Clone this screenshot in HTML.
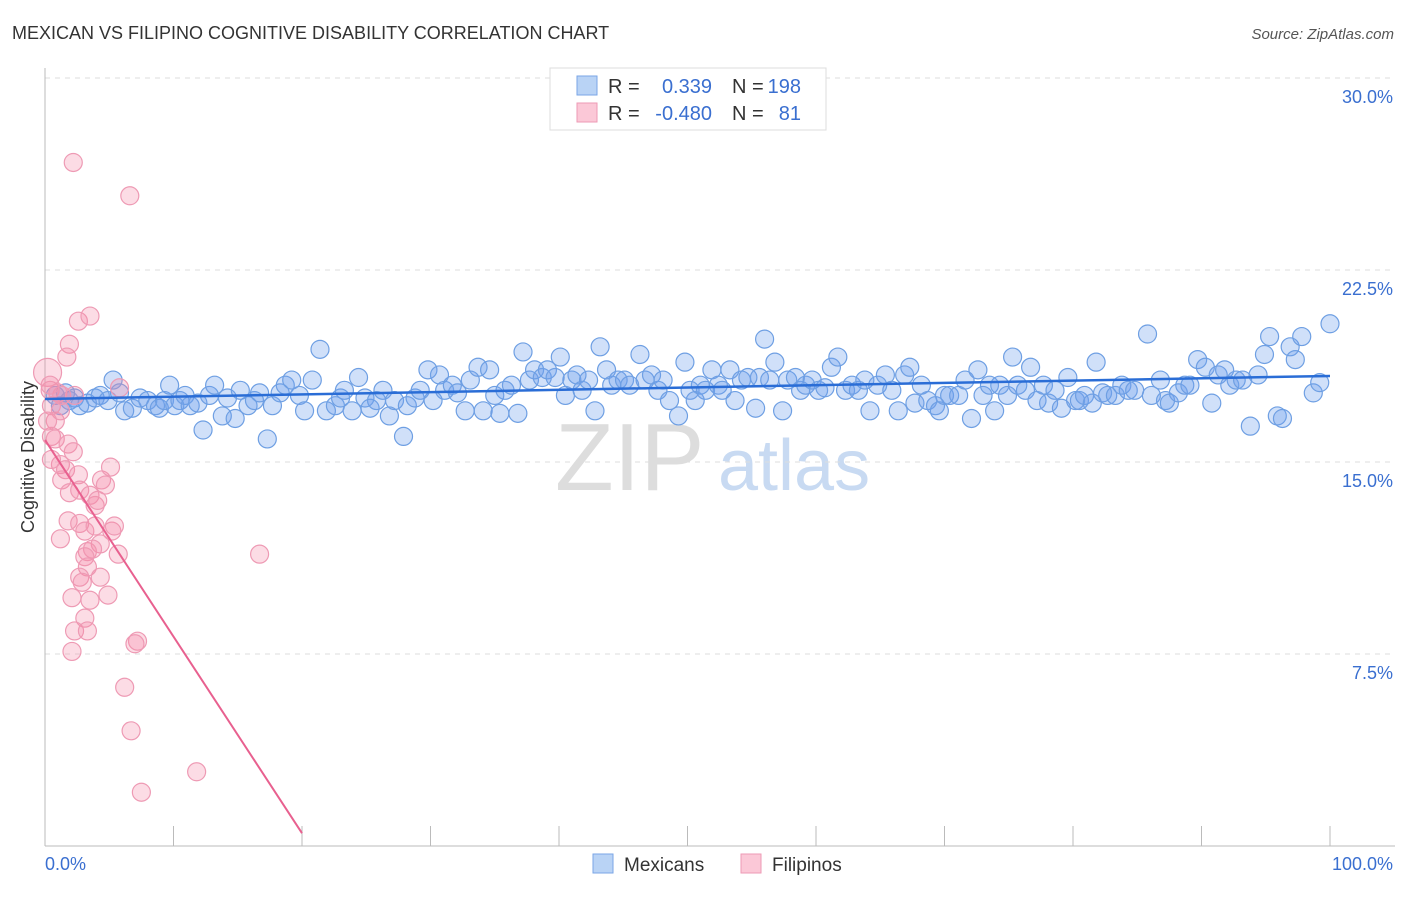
<!DOCTYPE html>
<html><head><meta charset="utf-8"><style>
body{margin:0;background:#fff;font-family:"Liberation Sans",sans-serif;}
svg text{font-family:"Liberation Sans",sans-serif;}
</style></head><body>
<svg id="chart" width="1406" height="892" xmlns="http://www.w3.org/2000/svg">
<text x="12" y="39" font-size="18" fill="#333">MEXICAN VS FILIPINO COGNITIVE DISABILITY CORRELATION CHART</text>
<text x="1394" y="39" font-size="15" fill="#555" font-style="italic" text-anchor="end">Source: ZipAtlas.com</text>
<g>
<text x="555" y="490" font-size="96" fill="#ddd" font-family="Liberation Serif,serif">ZIP</text>
<text x="718" y="490" font-size="72" fill="#c8daf2">atlas</text>
</g>
<g id="grid"></g>
<g id="axes"></g>
<g id="points"></g>
<g id="trends"></g>
<g>
<rect x="550" y="68" width="276" height="62" fill="#fff" stroke="#ddd"/>
<rect x="577" y="76" width="20" height="19" fill="#b9d3f5" stroke="#7aa6e6"/>
<rect x="577" y="103" width="20" height="19" fill="#fbc8d7" stroke="#ee9ab4"/>
<text x="608" y="93" font-size="20" fill="#333">R =</text>
<text x="712" y="93" font-size="20" fill="#3a6fd0" text-anchor="end">0.339</text>
<text x="732" y="93" font-size="20" fill="#333">N =</text>
<text x="801" y="93" font-size="20" fill="#3a6fd0" text-anchor="end">198</text>
<text x="608" y="120" font-size="20" fill="#333">R =</text>
<text x="712" y="120" font-size="20" fill="#3a6fd0" text-anchor="end">-0.480</text>
<text x="732" y="120" font-size="20" fill="#333">N =</text>
<text x="801" y="120" font-size="20" fill="#3a6fd0" text-anchor="end">81</text>
</g>
<g>
<rect x="593" y="854" width="20" height="19" fill="#b9d3f5" stroke="#7aa6e6"/>
<text x="624" y="871" font-size="19" fill="#333">Mexicans</text>
<rect x="741" y="854" width="20" height="19" fill="#fbc8d7" stroke="#ee9ab4"/>
<text x="772" y="871" font-size="19" fill="#333">Filipinos</text>
</g>
<text transform="translate(34,457) rotate(-90)" font-size="18" fill="#333" text-anchor="middle">Cognitive Disability</text>
</svg>
<script>
const yTicks=[7.5,15,22.5,30];
const yTickLabels=["7.5%","15.0%","22.5%","30.0%"];
const xTicks=[0,10,20,30,40,50,60,70,80,90,100];
const mexX=[0.8,1.2,1.6,1.9,2.3,2.7,3.3,3.9,4.3,4.9,5.3,5.8,6.2,6.8,7.4,8.0,8.6,8.9,9.3,9.7,10.1,10.5,10.9,11.3,11.9,12.3,12.8,13.2,13.8,14.2,14.8,15.2,15.8,16.3,16.7,17.3,17.7,18.3,18.7,19.2,19.8,20.2,20.8,21.4,21.9,22.6,23.0,23.3,23.9,24.4,24.9,25.3,25.8,26.3,26.8,27.2,27.9,28.2,28.8,29.2,29.8,30.2,30.7,31.1,31.7,32.1,32.7,33.1,33.7,34.1,34.6,35.0,35.4,35.8,36.3,36.8,37.2,37.7,38.1,38.7,39.1,39.7,40.1,40.5,41.0,41.4,41.8,42.3,42.8,43.2,43.7,44.1,44.6,45.1,45.5,46.3,46.7,47.2,47.7,48.1,48.6,49.3,49.8,50.2,50.6,51.0,51.4,51.9,52.4,52.7,53.3,53.7,54.2,54.7,55.3,55.6,56.0,56.4,56.8,57.4,57.8,58.4,58.8,59.2,59.7,60.2,60.7,61.2,61.7,62.3,62.8,63.3,63.8,64.2,64.8,65.4,65.9,66.4,66.9,67.3,67.7,68.2,68.7,69.3,69.6,70.0,70.4,71.1,71.6,72.1,72.6,73.0,73.5,73.9,74.3,74.9,75.3,75.7,76.3,76.7,77.2,77.7,78.1,78.6,79.1,79.6,80.2,80.5,80.9,81.5,81.8,82.3,82.7,83.3,83.8,84.3,84.8,85.8,86.1,86.8,87.2,87.5,88.2,88.7,89.1,89.7,90.3,90.8,91.3,91.8,92.2,92.7,93.2,93.8,94.4,94.9,95.3,95.9,96.3,96.9,97.3,97.8,98.7,99.2,100];
const mexY=[17.6,17.2,17.7,17.4,17.5,17.2,17.3,17.5,17.6,17.4,18.2,17.7,17.0,17.1,17.5,17.4,17.2,17.1,17.4,18.0,17.2,17.4,17.6,17.2,17.3,16.25,17.6,18.0,16.8,17.5,16.7,17.8,17.2,17.4,17.7,15.9,17.2,17.7,18.0,18.2,17.6,17.0,18.2,19.4,17.0,17.2,17.5,17.8,17.0,18.3,17.5,17.1,17.4,17.8,16.8,17.4,16.0,17.2,17.5,17.8,18.6,17.4,18.4,17.8,18.0,17.7,17.0,18.2,18.7,17.0,18.6,17.6,16.9,17.8,18.0,16.9,19.3,18.2,18.6,18.3,18.6,18.3,19.1,17.6,18.2,18.4,17.8,18.2,17.0,19.5,18.6,18.0,18.2,18.2,18.0,19.2,18.2,18.4,17.8,18.2,17.4,16.8,18.9,17.8,17.4,18.0,17.8,18.6,18.0,17.8,18.6,17.4,18.2,18.3,17.1,18.3,19.8,18.2,18.9,17.0,18.2,18.3,17.8,18.0,18.2,17.8,17.9,18.7,19.1,17.8,18.0,17.8,18.2,17.0,18.0,18.4,17.8,17.0,18.4,18.7,17.3,18.0,17.4,17.2,17.0,17.6,17.6,17.6,18.2,16.7,18.6,17.6,18.0,17.0,18.0,17.6,19.1,18.0,17.8,18.7,17.4,18.0,17.3,17.8,17.1,18.3,17.4,17.4,17.6,17.3,18.9,17.7,17.6,17.6,18.0,17.8,17.8,20.0,17.6,18.2,17.4,17.3,17.7,18.0,18.0,19.0,18.7,17.3,18.4,18.6,18.0,18.2,18.2,16.4,18.4,19.2,19.9,16.8,16.7,19.5,19.0,19.9,17.7,18.1,20.4];
const filX=[0.2,0.4,0.5,0.8,0.5,1.0,1.2,1.3,0.8,2.2,6.6,2.6,3.5,1.9,1.7,5.8,2.3,1.8,2.2,1.2,1.6,1.3,1.9,2.6,2.7,3.5,3.9,4.1,4.4,4.7,5.1,1.8,2.7,3.1,3.9,5.2,5.4,1.2,4.3,3.3,3.7,3.1,5.7,16.7,3.3,2.7,2.9,4.3,2.1,3.5,4.9,3.1,2.3,3.3,7.2,7.0,2.1,6.2,6.7,11.8,7.5,0.4,0.2,0.5];
const filY=[18.5,17.8,17.2,16.6,16.0,17.7,17.0,17.6,15.9,26.7,25.4,20.5,20.7,19.6,19.1,17.9,17.6,15.7,15.4,14.9,14.7,14.3,13.8,14.5,13.9,13.7,13.3,13.5,14.3,14.1,14.8,12.7,12.6,12.3,12.5,12.3,12.5,12.0,11.8,11.5,11.6,11.3,11.4,11.4,10.9,10.5,10.3,10.5,9.7,9.6,9.8,8.9,8.4,8.4,8.0,7.9,7.6,6.2,4.5,2.9,2.1,18.0,16.6,15.1];
const mexTrend=[17.46,18.36];
const filTrendStart=15.86, filTrendSlope=-0.768;
const filTrendEndX=20;

const NS="http://www.w3.org/2000/svg";
const xs=v=>45+v*12.85;
const ys=v=>846-v*25.6;
function mk(tag,attrs,parent){const e=document.createElementNS(NS,tag);for(const k in attrs)e.setAttribute(k,attrs[k]);parent.appendChild(e);return e;}
const grid=document.getElementById('grid'),axes=document.getElementById('axes'),pts=document.getElementById('points'),tr=document.getElementById('trends');
yTicks.forEach((t,i)=>{
 const l=mk('line',{x1:45,x2:1395,y1:ys(t),y2:ys(t),stroke:'#ddd','stroke-dasharray':'5,5'},grid);
 
 
 const tx=mk('text',{x:1393,y:ys(t)+25,'font-size':18,fill:'#3a6fd0','text-anchor':'end'},axes);
 tx.textContent=yTickLabels[i];
 
 
});
const ax=mk('line',{x1:45,x2:45,y1:68,y2:846,stroke:'#bbb'},axes);


const bx=mk('line',{x1:45,x2:1395,y1:846,y2:846,stroke:'#bbb'},axes);


xTicks.forEach(t=>{
 const l=mk('line',{x1:xs(t),x2:xs(t),y1:826,y2:846,stroke:'#bbb'},axes);
 
 
});
const x0=mk('text',{x:45,y:870,'font-size':18,fill:'#3a6fd0'},axes);x0.textContent='0.0%';


const x1=mk('text',{x:1393,y:870,'font-size':18,fill:'#3a6fd0','text-anchor':'end'},axes);x1.textContent='100.0%';


mexX.forEach((x,i)=>{
 const c=mk('circle',{cx:xs(x),cy:ys(mexY[i]),r:9,fill:'rgba(110,160,235,0.32)',stroke:'#6e9fe3','stroke-width':1.2},pts);
 
 
});
filX.forEach((x,i)=>{
 const c=mk('circle',{cx:xs(x),cy:ys(filY[i]),r:i===0?14:9,fill:'rgba(245,140,170,0.3)',stroke:'#ee9ab4','stroke-width':1.2},pts);
 
 
});
const m=mk('line',{x1:xs(0),y1:ys(mexTrend[0]),x2:xs(100),y2:ys(mexTrend[1]),stroke:'#2a6dd6','stroke-width':2.5},tr);


const f=mk('line',{x1:xs(0),y1:ys(filTrendStart),x2:xs(filTrendEndX),y2:ys(filTrendStart+filTrendSlope*filTrendEndX),stroke:'#e8608f','stroke-width':2},tr);


</script>
</body></html>
